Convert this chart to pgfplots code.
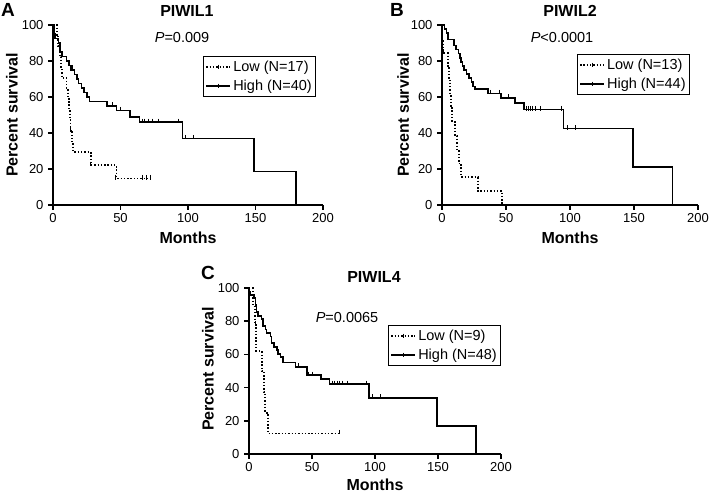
\documentclass[border=0pt]{standalone}
\usepackage{fontspec}
\setmainfont{Liberation Sans}
\usepackage{pgfplots}
\pgfplotsset{compat=1.18}
\tikzset{
  tit/.style={font=\bfseries\fontsize{16}{17}\selectfont},
  lab/.style={font=\bfseries\fontsize{16}{17}\selectfont},
  pv/.style={font=\fontsize{14.5}{15}\selectfont},
}
\pgfplotsset{
  km/.style={
    scale only axis,
    axis lines*=left,
    axis line style={line width=1.8pt,-},
    xmin=0, xmax=200, ymin=0, ymax=100,
    xtick={0,50,...,200}, ytick={0,20,...,100},
    tick align=outside, major tick length=5pt,
    every tick/.style={line width=1.5pt,black},
    tick label style={font=\fontsize{13}{14}\selectfont},
    /pgf/number format/assume math mode=true,
    xticklabel style={yshift=0pt},
    yticklabel style={xshift=-1pt},
    clip=false,
    legend cell align=left,
    legend style={draw=black, line width=0.7pt, font=\fontsize{14.5}{15}\selectfont, inner xsep=2pt, inner ysep=2.5pt, row sep=3pt, anchor=north west},
    legend image code/.code={\draw[mark repeat=2,mark phase=2,#1] plot coordinates {(0pt,0pt)(12pt,0pt)(24pt,0pt)};},
  },
  hi/.style={const plot, line width=1.6pt, black},
  lo/.style={const plot, line width=1.8pt, black, dash pattern=on 1.4pt off 1.9pt},
  cen/.style={only marks, mark=|, mark size=2.3pt, line width=0.9pt, black, every mark/.append style={yshift=1.3pt}},
  leg/.style={const plot=false, mark=|, mark size=2.2pt, mark options={solid,line width=0.9pt}},
}
\begin{document}
\begin{tikzpicture}
\path[use as bounding box] (0,0) rectangle (710pt,494pt);
% ---------------- A ----------------
\begin{axis}[km, at={(53pt,289pt)}, anchor=south west, width=270pt, height=180pt,
  legend style={at={(rel axis cs:0.556,0.828)}}]
\addlegendimage{lo, leg}
\addlegendentry{Low (N=17)}
\addlegendimage{hi, leg}
\addlegendentry{High (N=40)}
\addplot[hi] coordinates {(0,100)(1,95)(1.5,92.5)(4,90)(5,85)(6.5,82.5)(10,80)(12,77.5)(14,75)(16,72.5)(18,70)(19,67.5)(21,65)(23,62.5)(25,60)(27,57.5)(40,55)(47,52.5)(57,49)(64,46)(96,37)(149,18.5)(180,0)};
\addplot[cen] coordinates {(13,75)(40,55)(44,55)(50,52.5)(66,46)(68,46)(71,46)(74,46)(78,46)(93,46)(98,37)(104,37)};
\addplot[lo] coordinates {(0,100)(3,94.1)(4,88.2)(5,82.4)(6,76.5)(6.5,70.6)(10,64.7)(11,58.8)(12,52.9)(12.5,47.1)(13,41.2)(14,35.3)(15,29.4)(28,22.1)(47,14.7)(72,14.7)};
\addplot[cen] coordinates {(13,41.2)(27.5,22.1)(46.5,14.7)(66,14.7)(69,14.7)(72,14.7)};
\node[pv] at (rel axis cs:0.478,0.928) {\textit{P}=0.009};
\node[tit] at (rel axis cs:0.496,1.078) {PIWIL1};
\node[lab] at (rel axis cs:0.5,-0.183) {Months};
\node[lab, rotate=90] at (rel axis cs:-0.152,0.5) {Percent survival};
\end{axis}
% ---------------- B ----------------
\begin{axis}[km, at={(442pt,289pt)}, anchor=south west, width=256pt, height=180pt,
  legend style={at={(rel axis cs:0.527,0.839)}}]
\addlegendimage{lo, leg}
\addlegendentry{Low (N=13)}
\addlegendimage{hi, leg}
\addlegendentry{High (N=44)}
\addplot[hi] coordinates {(0,100)(2,97.7)(3.5,95.5)(4.5,92)(9.5,88.6)(11,86.4)(13,84.1)(14,81.8)(15,79.5)(16,77.3)(17,75)(19,72.7)(21,70.5)(23,68.2)(24,65.9)(26,64.4)(36,62)(46,59.5)(57,56.5)(64,53)(95,42.4)(149,21.2)(180,0)};
\addplot[cen] coordinates {(38,62)(45,62)(52,59.5)(66,53)(67.5,53)(69,53)(71,53)(73,53)(77,53)(93,53)(98,42.4)(104,42.4)};
\addplot[lo] coordinates {(0,100)(0.3,92.3)(1,84.6)(4.5,76.9)(5.5,69.2)(6.5,61.5)(7,53.8)(8,46.2)(10,38.5)(11.5,30.8)(13,23.1)(15,15.4)(28,7.7)(47,0)};
\addplot[cen] coordinates {(1,84.6)};
\node[pv] at (rel axis cs:0.469,0.928) {\textit{P}<0.0001};
\node[tit] at (rel axis cs:0.5,1.078) {PIWIL2};
\node[lab] at (rel axis cs:0.5,-0.183) {Months};
\node[lab, rotate=90] at (rel axis cs:-0.152,0.5) {Percent survival};
\end{axis}
% ---------------- C ----------------
\begin{axis}[km, at={(249pt,40pt)}, anchor=south west, width=252pt, height=166pt,
  legend style={at={(rel axis cs:0.552,0.777)}}]
\addlegendimage{lo, leg}
\addlegendentry{Low (N=9)}
\addlegendimage{hi, leg}
\addlegendentry{High (N=48)}
\addplot[hi] coordinates {(0,100)(0.5,97.9)(1,95.8)(4,93.8)(5,89.6)(6,85.4)(7,83.3)(10,81.3)(11,77.1)(13,75)(14,72.9)(17,70.8)(18,66.7)(20,64.6)(22,62.5)(23,60.4)(25,58.3)(27,55)(37,52.5)(46,47.5)(57,45)(64,42)(95,33.8)(149,16.9)(180,0)};
\addplot[cen] coordinates {(39,52.5)(47,47.5)(50,47.5)(66,42)(68,42)(70,42)(72,42)(74,42)(78,42)(93,42)(98,33.8)(104,33.8)};
\addplot[lo] coordinates {(0,100)(3,88.9)(4.5,77.8)(5.5,62.2)(10,49.8)(12,37.3)(13,24.9)(15,12.4)(72,12.4)};
\addplot[cen] coordinates {(5,77.8)(72,12.4)};
\node[pv] at (rel axis cs:0.389,0.825) {\textit{P}=0.0065};
\node[tit] at (rel axis cs:0.496,1.066) {PIWIL4};
\node[lab] at (rel axis cs:0.5,-0.187) {Months};
\node[lab, rotate=90] at (rel axis cs:-0.163,0.512) {Percent survival};
\end{axis}
% panel letters
\node[font=\bfseries\fontsize{19}{20}\selectfont] at (8pt,484pt) {A};
\node[font=\bfseries\fontsize{19}{20}\selectfont] at (397pt,484pt) {B};
\node[font=\bfseries\fontsize{19}{20}\selectfont] at (208pt,221pt) {C};
\end{tikzpicture}
\end{document}
